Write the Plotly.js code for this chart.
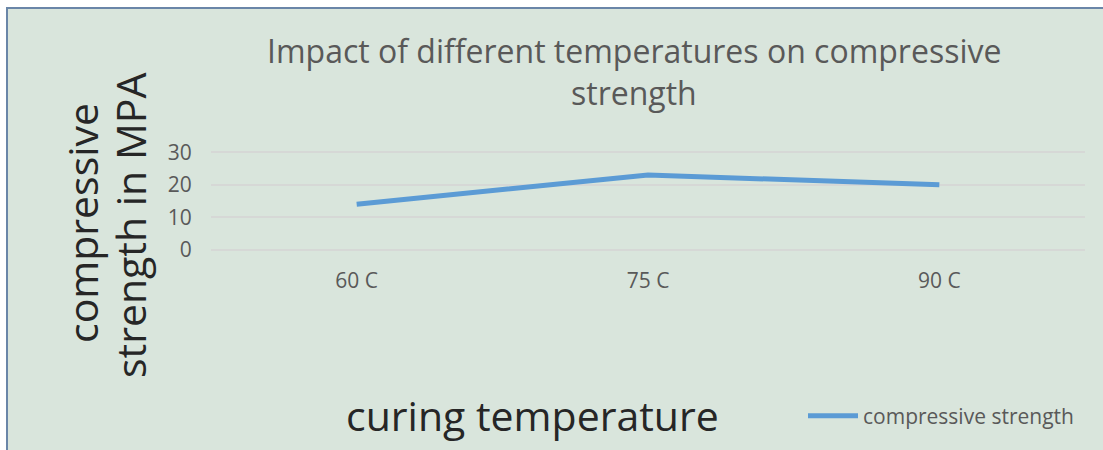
<!DOCTYPE html>
<html><head><meta charset="utf-8">
<script src="https://cdn.plot.ly/plotly-3.0.1.min.js"></script>
<style>html,body{margin:0;padding:0;background:#fff}#c{width:1103px;height:450px}</style>
</head><body><div id="c"></div>
<script>
const categories = ["60 C", "75 C", "90 C"];
const strength = [14, 23, 20];
const yTicks = [0, 10, 20, 30];
const seriesName = "compressive strength";
const titleLines = ["Impact of different temperatures on compressive", "strength"];
const yTitleLines = ["compressive", "strength in MPA"];
const xTitle = "curing temperature";

const grey = "#595959";
const dark = "#262626";
const font = "Open Sans, sans-serif";
const L = 211, R = 18, T = 149, B = 197;
const pw = 1103 - L - R, ph = 450 - T - B;
const px = v => (v - L) / pw;
const py = v => (450 - B - v) / ph;

const data = [{
  x: categories, y: strength, type: "scatter", mode: "lines", name: seriesName,
  line: {color: "#5b9bd5", width: 5}
}];

const ann = (text, x, y, size, color, angle) => ({
  text, xref: "paper", yref: "paper", x: px(x), y: py(y), xanchor: "center", yanchor: "middle",
  showarrow: false, textangle: angle || 0, font: {size, color, family: font}
});

const layout = {
  width: 1103, height: 450,
  margin: {l: L, r: R, t: T, b: B},
  paper_bgcolor: "#ffffff", plot_bgcolor: "rgba(0,0,0,0)",
  font: {family: font, color: grey},
  xaxis: {type: "category", range: [-0.5, 2.5], showgrid: false, zeroline: false, showline: false,
    ticks: "outside", ticklen: 9, tickcolor: "rgba(0,0,0,0)", tickfont: {size: 21, color: grey},
    automargin: false},
  yaxis: {range: [-1, 31], tickvals: yTicks, showgrid: true, gridcolor: "#d6d8d6", gridwidth: 2,
    zeroline: false, showline: false, ticks: "outside", ticklen: 14, tickcolor: "rgba(0,0,0,0)",
    tickfont: {size: 21, color: grey}, automargin: false},
  showlegend: true,
  legend: {x: px(803), y: py(416), xanchor: "left", yanchor: "middle", bgcolor: "rgba(0,0,0,0)",
    font: {size: 21, color: grey}, itemwidth: 50},
  shapes: [{type: "rect", xref: "paper", yref: "paper", layer: "below",
    x0: px(7), x1: px(1140), y0: py(470), y1: py(8),
    fillcolor: "#d9e5dc", line: {color: "#6a86a8", width: 2}}],
  annotations: [
    ann(titleLines[0], 634, 50, 32, grey),
    ann(titleLines[1], 634, 92, 32, grey),
    ann(yTitleLines[0], 82, 223, 41, dark, -90),
    ann(yTitleLines[1], 130, 226, 41, dark, -90),
    ann(xTitle, 532, 415, 41, dark)
  ]
};
Plotly.newPlot("c", data, layout, {displayModeBar: false});
</script></body></html>
